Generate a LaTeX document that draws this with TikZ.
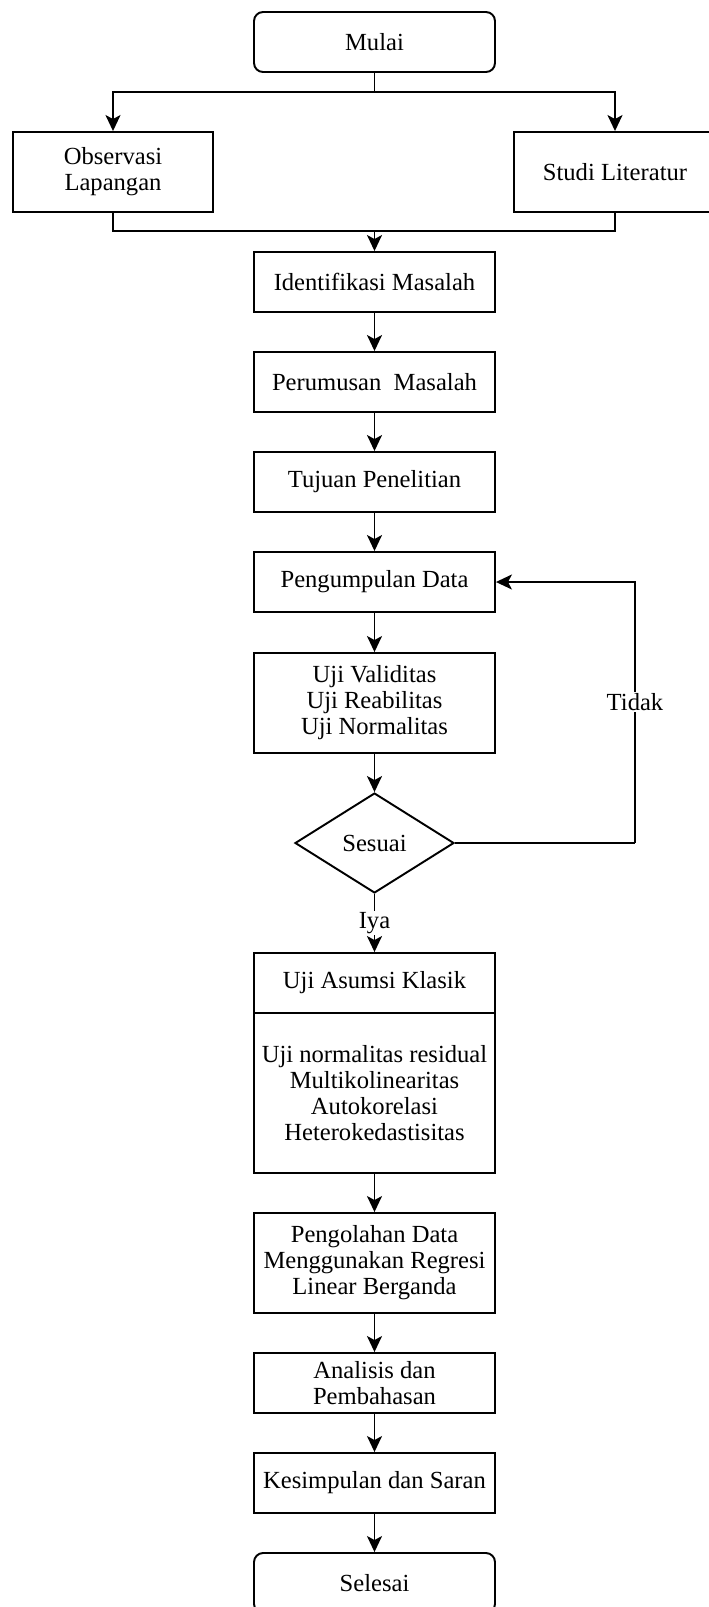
\documentclass[tikz,border=0pt]{standalone}
\usepackage{fontspec}
\setmainfont{Liberation Serif}
\usetikzlibrary{shapes.geometric,arrows.meta}

\begin{document}
\begin{tikzpicture}[x=0.02cm, y=-0.02cm,
    font=\fontsize{14}{14.8}\selectfont,
    kotak/.style={draw, line width=1.1pt, minimum width=4.82cm, minimum height=1.2cm, align=center, inner sep=2pt},
    terminal/.style={kotak, rounded corners=0.18cm},
    keputusan/.style={draw, line width=1.1pt, diamond, minimum width=3.18cm, minimum height=2cm, inner sep=0pt},
    panah/.style={line width=1.1pt, -{Stealth[length=3.2mm, width=3mm, inset=0.8mm]}},
    garis/.style={line width=1.1pt}]
\useasboundingbox (0,0) rectangle (708,1607);

% Start and the two first steps
\node[terminal] (mulai) at (374.5,42) {Mulai};
\node[kotak, minimum width=4cm, minimum height=1.6cm] (obs) at (113,172) {Observasi\\Lapangan};
\node[kotak, minimum width=4.04cm, minimum height=1.6cm] (studi) at (615,172) {Studi Literatur};
\coordinate (pisah) at (374.5,92);
\coordinate (gabung) at (374.5,231);

% Main column
\node[kotak] (ident) at (374.5,282) {Identifikasi Masalah};
\node[kotak] (rumus) at (374.5,382) {Perumusan\ \ Masalah};
\node[kotak] (tujuan) at (374.5,482) {Tujuan Penelitian};
\node[kotak] (kumpul) at (374.5,582) {Pengumpulan Data};
\node[kotak, minimum height=2cm] (uji) at (374.5,703) {Uji Validitas\\Uji Reabilitas\\Uji Normalitas};
\node[keputusan] (sesuai) at (374.5,843) {Sesuai};
\coordinate (balik) at (635,843);

% Classic assumption box (title + list)
\node[kotak] (asumsi) at (374.5,983) {Uji Asumsi Klasik};
\node[kotak, minimum height=3.2cm] (asumsiisi) at (374.5,1093) {Uji normalitas residual\\Multikolinearitas\\Autokorelasi\\Heterokedastisitas};

\node[kotak, minimum height=2cm] (olah) at (374.5,1263) {Pengolahan Data\\Menggunakan Regresi\\Linear Berganda};
\node[kotak] (analisis) at (374.5,1383) {Analisis dan\\Pembahasan};
\node[kotak] (simpul) at (374.5,1483) {Kesimpulan dan Saran};
\node[terminal] (selesai) at (374.5,1583) {Selesai};

% Connectors
\draw[garis] (mulai) -- (pisah);
\draw[panah] (pisah) -| (obs);
\draw[panah] (pisah) -| (studi);
\draw[garis] (obs) |- (gabung);
\draw[garis] (studi) |- (gabung);
\draw[panah] (gabung) -- (ident);
\draw[panah] (ident) -- (rumus);
\draw[panah] (rumus) -- (tujuan);
\draw[panah] (tujuan) -- (kumpul);
\draw[panah] (kumpul) -- (uji);
\draw[panah] (uji) -- (sesuai);
\draw[panah] (sesuai) -- node[fill=white, inner sep=1pt] {Iya} (asumsi);
\draw[garis] (sesuai) -- (balik);
\draw[panah] (balik) |- node[pos=0.27, fill=white, inner sep=1pt] {Tidak} (kumpul);
\draw[panah] (asumsiisi) -- (olah);
\draw[panah] (olah) -- (analisis);
\draw[panah] (analisis) -- (simpul);
\draw[panah] (simpul) -- (selesai);
\end{tikzpicture}
\end{document}
